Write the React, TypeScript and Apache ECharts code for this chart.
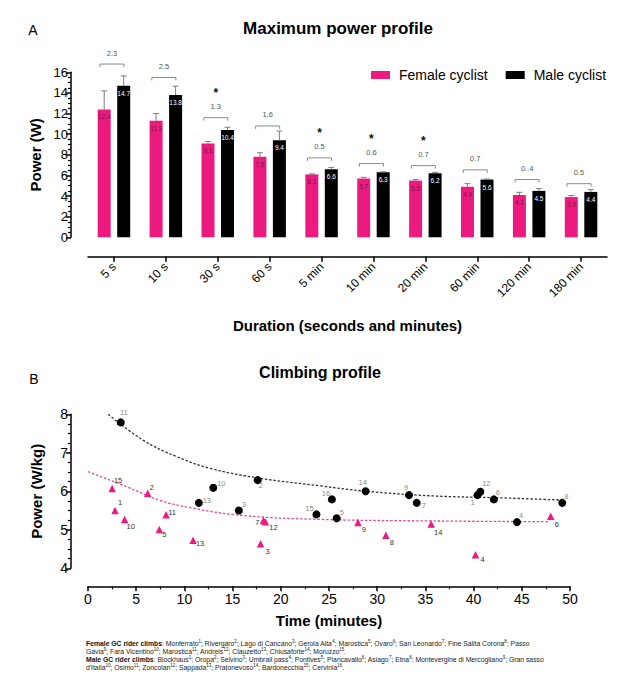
import React, { useEffect, useRef } from "react";
import * as echarts from "echarts";

// ---- Panel A: maximum power profile ----
const durations = ["5 s", "10 s", "30 s", "60 s", "5 min", "10 min", "20 min", "60 min", "120 min", "180 min"];
const femalePower = [12.4, 11.3, 9.1, 7.8, 6.1, 5.7, 5.5, 4.9, 4.1, 3.9];
const malePower = [14.7, 13.8, 10.4, 9.4, 6.6, 6.3, 6.2, 5.6, 4.5, 4.4];
const femaleErrTop = [14.2, 12.0, 9.3, 8.2, 6.15, 5.82, 5.6, 5.2, 4.36, 4.05];
const maleErrTop = [15.65, 14.65, 10.67, 10.3, 6.76, 6.35, 6.3, 5.65, 4.72, 4.62];
const diffLabels = ["2.3", "2.5", "1.3", "1.6", "0.5", "0.6", "0.7", "0.7", "0..4", "0.5"];
const significant = [false, false, true, false, true, true, true, false, false, false];
const bracketLevel = [16.8, 15.5, 11.6, 10.8, 7.7, 7.15, 6.95, 6.54, 5.6, 5.2];

// ---- Panel B: climbing profile ----
const femaleClimbId = [15, 1, 10, 2, 5, 11, 13, 7, 12, 3, 9, 8, 14, 4, 6];
const femaleClimbTime = [2.5, 2.8, 3.8, 6.2, 7.4, 8.1, 10.9, 18.2, 18.4, 17.9, 28.0, 30.9, 35.6, 40.2, 48.0];
const femaleClimbPower = [6.07, 5.5, 5.27, 5.95, 5.01, 5.39, 4.73, 5.24, 5.21, 4.64, 5.19, 4.86, 5.15, 4.35, 5.35];

const maleClimbId = [11, 13, 10, 3, 2, 15, 16, 5, 14, 9, 7, 1, 12, 6, 4, 8];
const maleClimbTime = [3.4, 11.5, 13.0, 15.65, 17.6, 23.7, 25.3, 25.8, 28.8, 33.3, 34.1, 40.4, 40.7, 42.1, 44.5, 49.2];
const maleClimbPower = [7.79, 5.7, 6.09, 5.5, 6.29, 5.4, 5.79, 5.3, 6.0, 5.9, 5.7, 5.9, 5.99, 5.79, 5.2, 5.7];

// fitted trend curves
const maleTrendTime = [2.1, 5.7, 9.2, 12.6, 17.8, 24.1, 28.9, 35.8, 42.8, 49.3];
const maleTrendPower = [8.0, 7.33, 6.9, 6.6, 6.34, 6.14, 6.0, 5.88, 5.83, 5.77];
const femaleTrendTime = [0, 4.0, 7.4, 10.9, 16.1, 24.1, 35.8, 47.9];
const femaleTrendPower = [6.51, 6.12, 5.77, 5.56, 5.37, 5.27, 5.23, 5.21];

const femaleClimbNames = [
  "Monferrato", "Rivergaro", "Lago di Cancano", "Gerola Alta", "Marostica", "Ovaro", "San Leonardo",
  "Fine Salita Corona", "Passo Gavia", "Fara Vicentino", "Marostica", "Andreis", "Clauzetto", "Chiusaforte", "Moruzzo",
];
const maleClimbNames = [
  "Blockhaus", "Oropa", "Selvino", "Umbrail pass", "Pontives", "Piancavallo", "Asiago", "Etna",
  "Montevergine di Mercogliano", "Gran sasso d'Italia", "Osimo", "Zoncolan", "Sappada", "Pratonevoso", "Bardonecchia", "Cervinia",
];

// label nudges (px) for the numbered points
const femaleLabelShift: Record<number, [number, number]> = {
  15: [6, -8], 1: [5, -8], 10: [6, 7], 2: [4, -6], 5: [5, 5], 11: [6, -2], 13: [7, 3], 7: [-6, 2],
  12: [8, 6], 3: [7, 8], 9: [6, 7], 8: [6, 7], 14: [7, 8], 4: [7, 5], 6: [6, 8],
};
const maleLabelShift: Record<number, [number, number]> = {
  11: [3, -10], 13: [8, -2], 10: [8, -4], 3: [5, -6], 2: [3, 5], 15: [-7, -6], 16: [-6, -6], 5: [5, -6],
  14: [-3, -9], 9: [-3, -8], 7: [7, 3], 1: [-5, 7], 12: [6, -8], 6: [4, -7], 4: [4, -7], 8: [4, -6],
};

const PINK = "#EC1A7E";
const FONT = "'Liberation Sans', Arial, Helvetica, sans-serif";
const BAR_SHIFT = 9.75;

const climbText = (title: string, names: string[]) =>
  `{b|${title}}: ` + names.map((n, i) => `${n}{s|${i + 1}}`).join("; ") + ".";

const axisLine = () => ({ show: true, onZero: false, lineStyle: { color: "#000", width: 1.5 } });
const axisTick = (extra: any = {}) => ({ show: true, length: 5, lineStyle: { color: "#000", width: 1.5 }, ...extra });
const minorTick = (n: number) => ({ show: true, splitNumber: n, length: 3, lineStyle: { color: "#000", width: 1.2 } });
const nameStyle = () => ({ fontSize: 15, fontWeight: "bold" as const, color: "#000" });

const App: React.FC = () => {
  const chartRef = useRef<HTMLDivElement>(null);

  useEffect(() => {
    const dom = chartRef.current;
    if (!dom) return;
    const chart = echarts.init(dom, null, { renderer: "svg" });

    const errorItem = (side: number) => (params: any, api: any) => {
      const cat = api.value(0);
      const base = api.coord([cat, api.value(1)]);
      const top = api.coord([cat, api.value(2)]);
      const x = base[0] + side * BAR_SHIFT;
      return {
        type: "group",
        children: [
          { type: "line", shape: { x1: x, y1: base[1], x2: x, y2: top[1] }, style: { stroke: "#7c7c7c", lineWidth: 1 } },
          { type: "line", shape: { x1: x - 3, y1: top[1], x2: x + 3, y2: top[1] }, style: { stroke: "#7c7c7c", lineWidth: 1 } },
        ],
      };
    };

    const bracketItem = (params: any, api: any) => {
      const i = params.dataIndex;
      const p = api.coord([api.value(0), api.value(1)]);
      const x1 = p[0] - 14;
      const x2 = p[0] + 10;
      const y = p[1];
      const cx = (x1 + x2) / 2;
      const children: any[] = [
        {
          type: "polyline",
          shape: { points: [[x1, y + 3], [x1, y], [x2, y], [x2, y + 3]] },
          style: { stroke: "#8a8a8a", lineWidth: 1, fill: null },
        },
        {
          type: "text",
          style: {
            x: cx, y: y - 11, text: diffLabels[i], fontSize: 7.5, fontFamily: FONT,
            fill: "#555555", align: "center", verticalAlign: "middle",
          },
        },
      ];
      if (significant[i]) {
        children.push({
          type: "text",
          style: {
            x: cx, y: y - 25, text: "*", fontSize: 12, fontWeight: "bold", fontFamily: FONT,
            fill: "#111111", align: "center", verticalAlign: "middle",
          },
        });
      }
      return { type: "group", children };
    };

    const climbPoints = (ids: number[], t: number[], v: number[], shift: Record<number, [number, number]>) =>
      ids.map((id, i) => ({ value: [t[i], v[i]], name: String(id), label: { offset: shift[id] } }));

    const option: echarts.EChartsOption = {
      animation: false,
      textStyle: { fontFamily: FONT },
      legend: {
        data: ["Female cyclist", "Male cyclist"],
        left: 366,
        top: 63,
        icon: "rect",
        itemWidth: 19,
        itemHeight: 8,
        itemGap: 18,
        textStyle: { fontSize: 14, color: "#000", padding: [0, 0, 0, 4] },
      },
      grid: [
        { left: 88, top: 72.3, width: 519, height: 165 },
        { left: 88, top: 414.3, width: 482, height: 154 },
      ],
      xAxis: [
        {
          type: "category",
          gridIndex: 0,
          data: durations,
          offset: 19.5,
          axisLine: axisLine(),
          axisTick: axisTick({ alignWithLabel: true }),
          axisLabel: { rotate: 45, fontSize: 12, color: "#000", margin: 8, interval: 0 },
          name: "Duration (seconds and minutes)",
          nameLocation: "middle",
          nameGap: 61,
          nameTextStyle: nameStyle(),
        },
        {
          type: "value",
          gridIndex: 1,
          min: 0,
          max: 50,
          interval: 5,
          offset: 18,
          axisLine: axisLine(),
          axisTick: axisTick(),
          minorTick: minorTick(2),
          splitLine: { show: false },
          axisLabel: { fontSize: 14, color: "#000", margin: 6 },
          name: "Time (minutes)",
          nameLocation: "middle",
          nameGap: 27,
          nameTextStyle: nameStyle(),
        },
      ],
      yAxis: [
        {
          type: "value",
          gridIndex: 0,
          min: 0,
          max: 16,
          interval: 2,
          offset: 17,
          axisLine: axisLine(),
          axisTick: axisTick(),
          minorTick: minorTick(4),
          splitLine: { show: false },
          axisLabel: { fontSize: 13, color: "#000", margin: 3 },
          name: "Power (W)",
          nameLocation: "middle",
          nameGap: 28,
          nameTextStyle: nameStyle(),
        },
        {
          type: "value",
          gridIndex: 1,
          min: 4,
          max: 8,
          interval: 1,
          offset: 17,
          axisLine: axisLine(),
          axisTick: axisTick(),
          minorTick: minorTick(4),
          splitLine: { show: false },
          axisLabel: { fontSize: 14, color: "#000", margin: 3 },
          name: "Power (W/kg)",
          nameLocation: "middle",
          nameGap: 27,
          nameTextStyle: nameStyle(),
        },
      ],
      series: [
        {
          name: "Female cyclist",
          type: "bar",
          xAxisIndex: 0,
          yAxisIndex: 0,
          data: femalePower,
          barWidth: 13,
          barGap: "50%",
          itemStyle: { color: PINK },
          label: { show: true, position: "insideTop", distance: 4, fontSize: 6.5, color: "#7a1746" },
        },
        {
          name: "Male cyclist",
          type: "bar",
          xAxisIndex: 0,
          yAxisIndex: 0,
          data: malePower,
          barWidth: 13,
          barGap: "50%",
          itemStyle: { color: "#000" },
          label: { show: true, position: "insideTop", distance: 4, fontSize: 6.5, color: "#ffffff" },
        },
        {
          type: "custom",
          xAxisIndex: 0,
          yAxisIndex: 0,
          renderItem: errorItem(-1) as any,
          itemStyle: { color: "#7c7c7c" },
          data: femalePower.map((v, i) => [i, v, femaleErrTop[i]]),
          z: 3,
        },
        {
          type: "custom",
          xAxisIndex: 0,
          yAxisIndex: 0,
          renderItem: errorItem(1) as any,
          itemStyle: { color: "#7c7c7c" },
          data: malePower.map((v, i) => [i, v, maleErrTop[i]]),
          z: 3,
        },
        {
          type: "custom",
          xAxisIndex: 0,
          yAxisIndex: 0,
          renderItem: bracketItem as any,
          itemStyle: { color: "#555555" },
          data: bracketLevel.map((v, i) => [i, v]),
          z: 3,
        },
        {
          type: "line",
          xAxisIndex: 1,
          yAxisIndex: 1,
          data: maleTrendTime.map((t, i) => [t, maleTrendPower[i]]),
          smooth: 0.4,
          showSymbol: false,
          lineStyle: { color: "#333", width: 1.3, type: [2.5, 1.8] },
          z: 1,
        },
        {
          type: "line",
          xAxisIndex: 1,
          yAxisIndex: 1,
          data: femaleTrendTime.map((t, i) => [t, femaleTrendPower[i]]),
          smooth: 0.4,
          showSymbol: false,
          lineStyle: { color: "#E0489A", width: 1.3, type: [2.5, 1.8] },
          z: 1,
        },
        {
          name: "Male GC riders",
          type: "scatter",
          xAxisIndex: 1,
          yAxisIndex: 1,
          symbol: "circle",
          symbolSize: 8,
          itemStyle: { color: "#000", opacity: 1 },
          data: climbPoints(maleClimbId, maleClimbTime, maleClimbPower, maleLabelShift),
          label: { show: true, position: "inside", formatter: "{b}", fontSize: 7.5, color: "#8a8a8a" },
          z: 3,
        },
        {
          name: "Female GC riders",
          type: "scatter",
          xAxisIndex: 1,
          yAxisIndex: 1,
          symbol: "triangle",
          symbolSize: 7.5,
          itemStyle: { color: PINK, opacity: 1 },
          data: climbPoints(femaleClimbId, femaleClimbTime, femaleClimbPower, femaleLabelShift),
          label: { show: true, position: "inside", formatter: "{b}", fontSize: 7.5, color: "#333" },
          z: 3,
        },
      ],
      graphic: [
        {
          type: "text", x: 33, y: 30,
          style: { text: "A", fontSize: 14, fontFamily: FONT, fill: "#000", align: "center", verticalAlign: "middle" },
        },
        {
          type: "text", x: 338, y: 28.5,
          style: {
            text: "Maximum power profile", fontSize: 17, fontWeight: "bold", fontFamily: FONT,
            fill: "#000", align: "center", verticalAlign: "middle",
          },
        },
        {
          type: "text", x: 34, y: 378.5,
          style: { text: "B", fontSize: 14, fontFamily: FONT, fill: "#000", align: "center", verticalAlign: "middle" },
        },
        {
          type: "text", x: 320, y: 372.5,
          style: {
            text: "Climbing profile", fontSize: 16, fontWeight: "bold", fontFamily: FONT,
            fill: "#000", align: "center", verticalAlign: "middle",
          },
        },
        {
          type: "text", x: 86, y: 639,
          style: {
            text: climbText("Female GC rider climbs", femaleClimbNames).replace("Passo Gavia", "Passo\nGavia"),
            fontSize: 6.8, lineHeight: 8, fontFamily: FONT, fill: "#222", verticalAlign: "top",
            rich: {
              b: { fontWeight: "bold", fontSize: 6.8, lineHeight: 8, fill: "#111" },
              s: { fontSize: 4.5, lineHeight: 5, verticalAlign: "top", fill: "#222" },
            },
          },
        },
        {
          type: "text", x: 86, y: 655.3,
          style: {
            text: climbText("Male GC rider climbs", maleClimbNames).replace("Gran sasso d'Italia", "Gran sasso\nd'Italia"),
            fontSize: 6.8, lineHeight: 8, fontFamily: FONT, fill: "#222", verticalAlign: "top",
            rich: {
              b: { fontWeight: "bold", fontSize: 6.8, lineHeight: 8, fill: "#111" },
              s: { fontSize: 4.5, lineHeight: 5, verticalAlign: "top", fill: "#222" },
            },
          },
        },
      ],
    };

    chart.setOption(option);

    return () => {
      chart.dispose();
    };
  }, []);

  return (
    <div
      ref={chartRef}
      style={{ position: "absolute", left: 0, top: 0, width: 634, height: 680 }}
    />
  );
};

export default App;
